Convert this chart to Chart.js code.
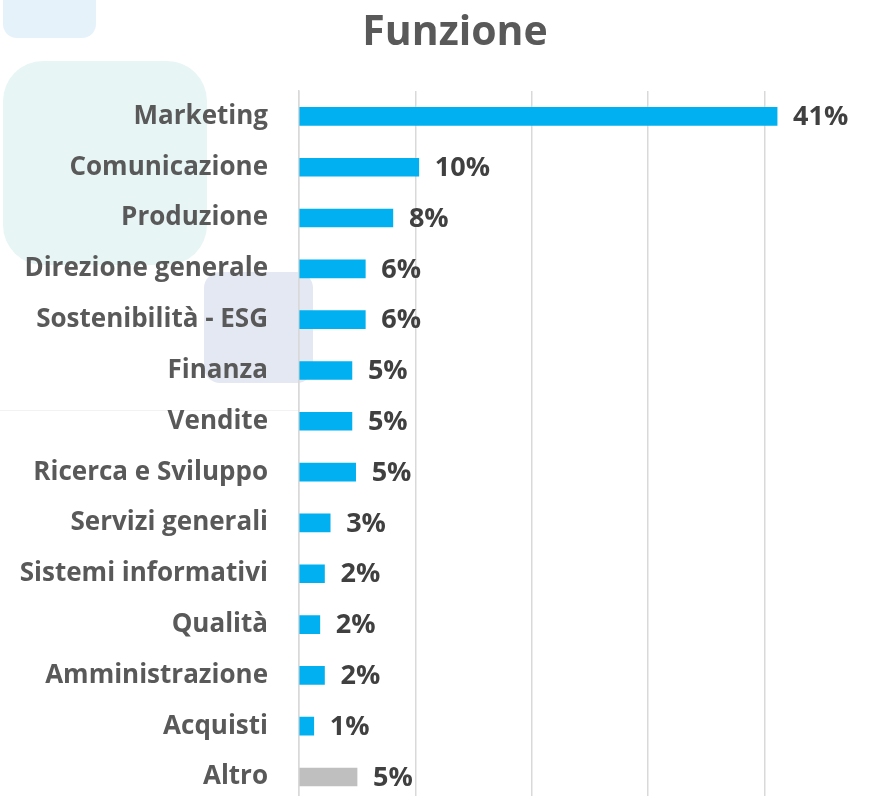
<!DOCTYPE html>
<html>
<head>
<meta charset="utf-8">
<script src="https://cdn.jsdelivr.net/npm/chart.js@4"></script>
<style>
  html, body { margin: 0; padding: 0; background: #ffffff; overflow: hidden; width: 869px; height: 796px; }
  #wrap { position: relative; width: 869px; height: 849px; }
  .deco { position: absolute; }
  canvas { position: absolute; left: 0; top: 0; }
</style>
</head>
<body>
<div id="wrap">
  <div class="deco" style="left:3px;top:-20px;width:93px;height:58px;background:#E6F2FA;border-radius:14px;"></div>
  <div class="deco" style="left:3px;top:61px;width:204px;height:204px;background:#E8F5F5;border-radius:40px;"></div>
  <div class="deco" style="left:204px;top:272px;width:109px;height:111px;background:#E4E8F2;border-radius:16px;"></div>
  <div class="deco" style="left:0px;top:410px;width:300px;height:1px;background:#F2F2F2;"></div>
  <canvas id="c" width="869" height="849"></canvas>
</div>
<script>
const categories = ["Marketing", "Comunicazione", "Produzione", "Direzione generale", "Sostenibilità - ESG", "Finanza", "Vendite", "Ricerca e Sviluppo", "Servizi generali", "Sistemi informativi", "Qualità", "Amministrazione", "Acquisti", "Altro"];
const values = [41.1, 10.3, 8.07, 5.7, 5.7, 4.55, 4.55, 4.87, 2.68, 2.19, 1.79, 2.19, 1.27, 4.99];
const barColors = ["#00B0F0", "#00B0F0", "#00B0F0", "#00B0F0", "#00B0F0", "#00B0F0", "#00B0F0", "#00B0F0", "#00B0F0", "#00B0F0", "#00B0F0", "#00B0F0", "#00B0F0", "#BFBFBF"];
const titleText = "Funzione";
const xTicks = [0, 10, 20, 30, 40];

const FONT = "'Open Sans', 'DejaVu Sans', sans-serif";

const valueLabels = {
  id: 'valueLabels',
  afterDatasetsDraw(chart) {
    const ctx = chart.ctx;
    const meta = chart.getDatasetMeta(0);
    ctx.save();
    ctx.font = "bold 27px " + FONT;
    ctx.fillStyle = "#404040";
    ctx.textAlign = "left";
    ctx.textBaseline = "middle";
    meta.data.forEach((bar, i) => {
      ctx.fillText(Math.round(values[i]) + "%", bar.x + 16, bar.y + 1);
    });
    ctx.restore();
  }
};

const titlePlugin = {
  id: 'titlePlugin',
  afterDraw(chart) {
    const ctx = chart.ctx;
    ctx.save();
    ctx.font = "bold 41px " + FONT;
    ctx.fillStyle = "#595959";
    ctx.textAlign = "center";
    ctx.textBaseline = "alphabetic";
    ctx.fillText(titleText, 455, 45);
    ctx.restore();
  }
};

new Chart(document.getElementById('c'), {
  type: 'bar',
  data: {
    labels: categories,
    datasets: [{
      data: values,
      backgroundColor: barColors,
      borderWidth: 0,
      barThickness: 18
    }]
  },
  options: {
    indexAxis: 'y',
    responsive: false,
    animation: false,
    layout: { padding: { top: 91, right: 0, bottom: 0, left: 0 } },
    plugins: { legend: { display: false }, tooltip: { enabled: false }, title: { display: false } },
    scales: {
      x: {
        min: 0,
        max: 49,
        afterBuildTicks(scale) { scale.ticks = xTicks.map(v => ({ value: v })); },
        afterFit(scale) { scale.height = 0; },
        ticks: { display: false },
        grid: { color: "#D9D9D9", lineWidth: 1.5, drawTicks: false },
        border: { display: false }
      },
      y: {
        afterFit(scale) { scale.width = 299; },
        ticks: {
          color: "#595959",
          font: { family: FONT, size: 26, weight: 'bold' },
          padding: 31,
          autoSkip: false
        },
        grid: { display: false, drawTicks: false },
        border: { display: true, color: "#D9D9D9", width: 1.5 }
      }
    }
  },
  plugins: [valueLabels, titlePlugin]
});
</script>
</body>
</html>
